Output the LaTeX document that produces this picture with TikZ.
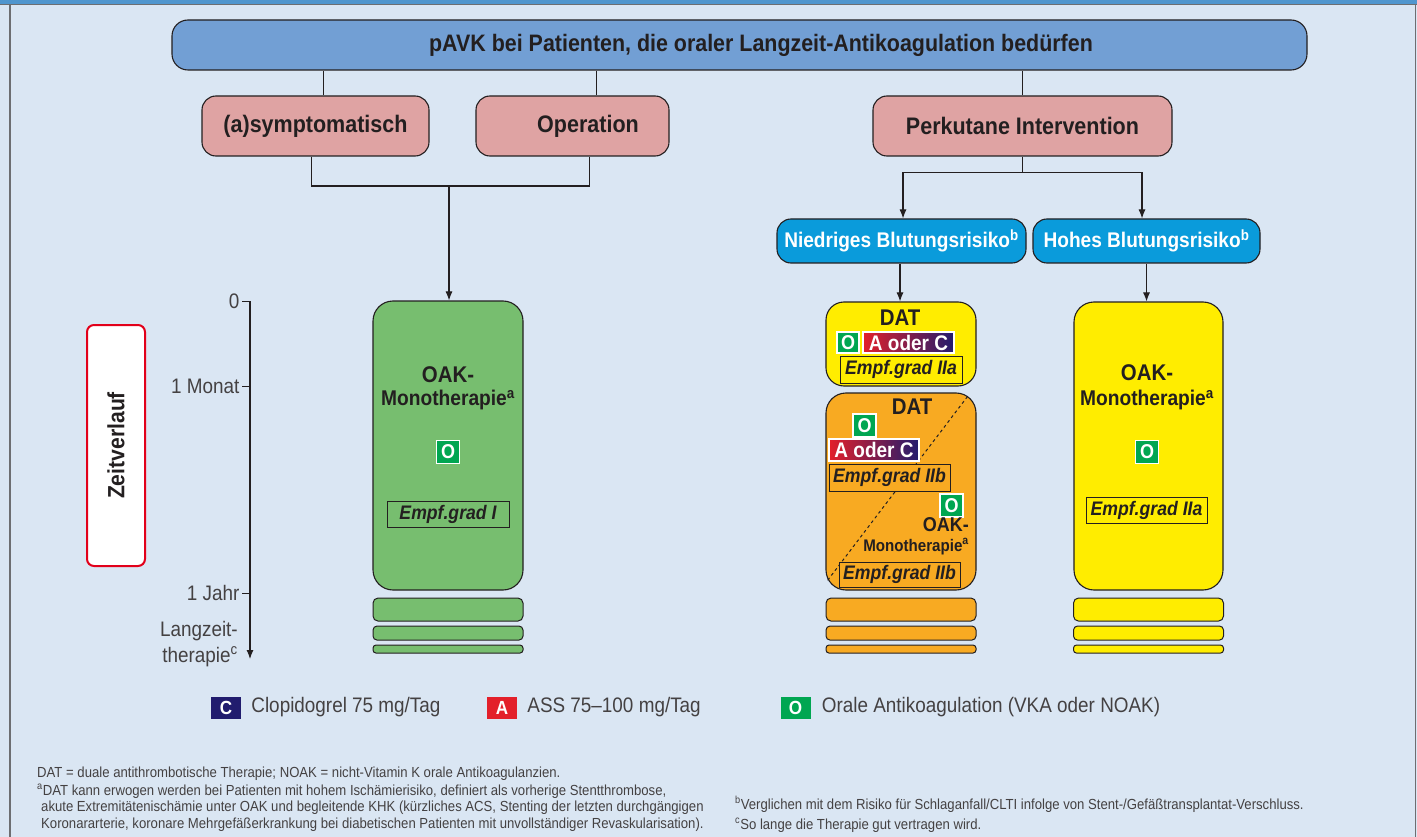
\documentclass[tikz,border=0pt]{standalone}
\usepackage{fontspec}
\setmainfont{Liberation Sans}[FakeStretch=0.9]
\usepackage{tikz}
\usetikzlibrary{shapes,arrows,arrows.meta,positioning}
\definecolor{bgblue}{HTML}{DAE6F3}
\definecolor{barblue}{HTML}{5096CE}
\definecolor{framegray}{HTML}{6D6E71}
\definecolor{headblue}{HTML}{729FD4}
\definecolor{rosa}{HTML}{DFA3A3}
\definecolor{riskblue}{HTML}{0A9BDB}
\definecolor{oakgreen}{HTML}{77BE6F}
\definecolor{datyellow}{HTML}{FFED00}
\definecolor{datorange}{HTML}{F8AA22}
\definecolor{ogreen}{HTML}{00A651}
\definecolor{ared}{HTML}{E3202A}
\definecolor{cnavy}{HTML}{211C6E}
\definecolor{zeitred}{HTML}{E2001A}
\definecolor{ink}{HTML}{231F20}
\tikzstyle{head} = [rectangle, draw=ink, line width=1.1pt, fill=headblue, rounded corners=16pt,
    inner sep=0pt, text=ink, font=\fontsize{23.8}{26}\selectfont\bfseries]
\tikzstyle{group} = [rectangle, draw=ink, line width=1.1pt, fill=rosa, rounded corners=14pt,
    inner sep=0pt, minimum height=60pt, text=ink, font=\fontsize{23.9}{26}\selectfont\bfseries]
\tikzstyle{risk} = [rectangle, draw=ink, line width=1.1pt, fill=riskblue, rounded corners=14pt,
    inner sep=0pt, minimum height=44pt, text=white, font=\fontsize{21.2}{24}\selectfont\bfseries]
\tikzstyle{therapy} = [rectangle, draw=ink, line width=1.1pt, rounded corners=20pt,
    inner sep=0pt, minimum width=150pt]
\tikzstyle{slab} = [rectangle, draw=ink, line width=1pt, inner sep=0pt, minimum width=150pt]
\tikzstyle{txt} = [inner sep=0pt, text=ink, font=\fontsize{21.3}{24}\selectfont\bfseries]
\tikzstyle{big} = [font=\fontsize{22.7}{24}\selectfont\bfseries]
\tikzstyle{obox} = [rectangle, draw=white, line width=1.2pt, fill=ogreen, inner sep=0pt,
    minimum width=23pt, minimum height=23pt, text=white, font=\fontsize{20}{20}\selectfont\bfseries]
\tikzstyle{acbox} = [rectangle, draw=white, line width=1.2pt, left color=ared, right color=cnavy,
    inner sep=0pt, minimum height=22pt, text=white, font=\fontsize{21.1}{22}\selectfont\bfseries]
\tikzstyle{grade} = [rectangle, draw=ink, line width=1pt, inner sep=0pt, minimum height=26pt,
    text=ink, font=\fontsize{19.6}{22}\selectfont\bfseries\itshape]
\tikzstyle{keybox} = [rectangle, inner sep=0pt, minimum width=30pt, minimum height=22pt,
    text=white, font=\fontsize{19}{20}\selectfont\bfseries]
\tikzstyle{keytext} = [inner sep=0pt, text=ink!85, font=\fontsize{21}{22}\selectfont]
\tikzstyle{timelabel} = [inner sep=0pt, text=ink!85, font=\fontsize{21}{26}\selectfont]
\tikzstyle{note} = [inner sep=0pt, text=ink!85, font=\fontsize{14.6}{16}\selectfont]
\tikzstyle{zeit} = [rectangle, draw=zeitred, line width=2pt, fill=white, rounded corners=7pt,
    rotate=90, minimum width=241pt, minimum height=58pt, text=ink,
    font=\fontsize{23.5}{24}\selectfont\bfseries]
\tikzstyle{line} = [draw=ink, line width=1.1pt, -{Latex[length=9pt, width=7pt]}]
\tikzstyle{link} = [draw=ink, line width=1.1pt]
\newcommand{\therapybars}[2]{%
  \node [slab, fill=#2, minimum height=23pt, rounded corners=5pt, below=7pt of #1] (#1a) {};
  \node [slab, fill=#2, minimum height=14pt, rounded corners=4pt, below=4pt of #1a] (#1b) {};
  \node [slab, fill=#2, minimum height=8pt, rounded corners=3pt, below=4pt of #1b] (#1c) {};}

\begin{document}
\begin{tikzpicture}[x=1pt, y=-1pt]
        \useasboundingbox (0,0) rectangle (1417,837);
        % Frame
        \fill [bgblue] (0,0) rectangle (1417,837);
        \fill [barblue] (0,0) rectangle (1417,4);
        \draw [framegray, line width=1.2pt] (0,4.5) -- (1417,4.5) (10,4.5) -- (10,837) (1415.5,4.5) -- (1415.5,837);

        % Place nodes
        % 1. Header and groups
        \node [head, minimum width=1135pt, minimum height=50pt] (pavk) at (739.5,45)
              {\hspace*{43pt}pAVK bei Patienten, die oraler Langzeit-Antikoagulation bedürfen};
        \node [group, minimum width=227pt] (asym) at (315.5,126) {(a)symptomatisch};
        \node [group, minimum width=193pt] (oper) at (572.5,126) {\hspace*{31pt}Operation};
        \node [group, minimum width=299pt] (perk) at (1022.5,126) {Perkutane Intervention};
        \node [risk, minimum width=249pt] (nied) at (901.5,241) {Niedriges Blutungsrisiko\textsuperscript{b}};
        \node [risk, minimum width=227pt] (hoch) at (1146.5,241) {Hohes Blutungsrisiko\textsuperscript{b}};

        % 2. OAK monotherapy (left)
        \node [therapy, fill=oakgreen, minimum height=289pt] (oakl) at (448,445.5) {};
        \node [txt, big] (oakl1) at (448,375) {OAK-};
        \node [txt] (oakl2) at (448,400) {Monotherapie\textsuperscript{a}};
        \node [obox] (oakl3) at (448,452) {O};
        \node [grade, fill=oakgreen, minimum width=122pt] (oakl4) at (448,514) {Empf.grad I};
        \therapybars{oakl}{oakgreen}

        % 3. DAT, low bleeding risk
        \node [therapy, fill=datyellow, minimum height=84pt, rounded corners=18pt] (daty) at (901,344) {};
        \node [txt, big] (daty1) at (900,318) {DAT};
        \node [obox, minimum width=22pt, minimum height=21pt] (daty2) at (848,342.5) {O};
        \node [acbox, minimum width=91pt, minimum height=21pt] (daty3) at (908.5,342.5) {A oder C};
        \node [grade, fill=datyellow, minimum width=122pt, minimum height=27pt] (daty4) at (901,369.5) {Empf.grad IIa};

        \node [therapy, fill=datorange, minimum height=197pt] (dato) at (901,491.5) {};
        \draw [ink, line width=1pt, dashed] ([shift={(-9,4)}]dato.north east) -- ([shift={(2,-10)}]dato.south west);
        \node [txt, big] (dato1) at (912,407) {DAT};
        \node [obox] (dato2) at (864.5,425.5) {O};
        \node [acbox, minimum width=90pt] (dato3) at (874,450) {A oder C};
        \node [grade, fill=datorange, minimum width=121pt, minimum height=27pt] (dato4) at (889.5,477.5) {Empf.grad IIb};
        \node [obox] (dato5) at (951.5,505.5) {O};
        \node [txt, anchor=east, font=\fontsize{20}{22}\selectfont\bfseries] (dato6) at (969,525) {OAK-};
        \node [txt, anchor=east, font=\fontsize{16.8}{18}\selectfont\bfseries] (dato7) at (969,546.5) {Monotherapie\textsuperscript{a}};
        \node [grade, fill=datorange, minimum width=121pt, minimum height=25pt] (dato8) at (899.5,574.5) {Empf.grad IIb};
        \therapybars{dato}{datorange}

        % 4. OAK monotherapy, high bleeding risk
        \node [therapy, fill=datyellow, minimum width=149pt, minimum height=288pt] (oakr) at (1148.5,446) {};
        \node [txt, big] (oakr1) at (1147,373) {OAK-};
        \node [txt] (oakr2) at (1147,400) {Monotherapie\textsuperscript{a}};
        \node [obox] (oakr3) at (1147,452) {O};
        \node [grade, fill=datyellow, minimum width=121pt] (oakr4) at (1146.5,510) {Empf.grad IIa};
        \therapybars{oakr}{datyellow}

        % 5. Time axis
        \node [zeit] (zeit) at (116,445.5) {Zeitverlauf};
        \coordinate (tnull) at (250,301);
        \coordinate (tend) at (250,659);
        \path [line] (tnull) -- (tend);
        \draw [ink, line width=1pt] (tnull) -- ++(-8,0) node [timelabel, anchor=east, xshift=-2pt] (tl0) {0};
        \draw [ink, line width=1pt] (250,386) -- ++(-8,0) node [timelabel, anchor=east, xshift=-2pt] (tl1) {1 Monat};
        \draw [ink, line width=1pt] (250,593) -- ++(-8,0) node [timelabel, anchor=east, xshift=-2pt] (tl2) {1 Jahr};
        \node [timelabel, anchor=north east, align=right] (tl3) at (238,621) {Langzeit-\\therapie\textsuperscript{c}};

        % Draw edges
        \path [link] ([xshift=8pt]asym.north) -- ([xshift=8pt]asym.north |- pavk.south);
        \path [link] ([xshift=24pt]oper.north) -- ([xshift=24pt]oper.north |- pavk.south);
        \path [link] (perk.north) -- (perk.north |- pavk.south);
        \coordinate (opj) at (449,186);
        \path [link] ([xshift=-4pt]asym.south) |- (opj) -| ([xshift=17pt]oper.south);
        \path [line] (opj) -- (opj |- oakl.north);
        \path [link] (perk.south) -- ++(0,16) coordinate (pkj);
        \path [line] (pkj) -| ([xshift=1.5pt]nied.north);
        \path [line] (pkj) -| ([xshift=-4.5pt]hoch.north);
        \path [line] ([xshift=-1.5pt]nied.south) -- ([xshift=-1.5pt]nied.south |- daty.north);
        \path [line] (hoch.south) -- (hoch.south |- oakr.north);

        % Legend
        \node [keybox, fill=cnavy] (keyc) at (226,707.5) {C};
        \node [keytext, right=10pt of keyc] (txtc) {Clopidogrel 75 mg/Tag};
        \node [keybox, fill=ared] (keya) at (502,707.5) {A};
        \node [keytext, right=10pt of keya] (txta) {ASS 75–100 mg/Tag};
        \node [keybox, fill=ogreen] (keyo) at (795.5,707.5) {O};
        \node [keytext, right=11pt of keyo] (txto) {Orale Antikoagulation (VKA oder NOAK)};

        % Footnotes
        \node [note, anchor=base west] (fn1) at (37,777) {DAT = duale antithrombotische Therapie; NOAK = nicht-Vitamin K orale Antikoagulanzien.};
        \node [note, anchor=base west] (fna1) at (37,795) {\textsuperscript{a}DAT kann erwogen werden bei Patienten mit hohem Ischämierisiko, definiert als vorherige Stentthrombose,};
        \node [note, anchor=base west] (fna2) at (41,811) {akute Extremitätenischämie unter OAK und begleitende KHK (kürzliches ACS, Stenting der letzten durchgängigen};
        \node [note, anchor=base west] (fna3) at (41,828) {Koronararterie, koronare Mehrgefäßerkrankung bei diabetischen Patienten mit unvollständiger Revaskularisation).};
        \node [note, anchor=base west] (fnb) at (735,809) {\textsuperscript{b}Verglichen mit dem Risiko für Schlaganfall/CLTI infolge von Stent-/Gefäßtransplantat-Verschluss.};
        \node [note, anchor=base west] (fnc) at (735,829) {\textsuperscript{c}So lange die Therapie gut vertragen wird.};
\end{tikzpicture}
\end{document}
